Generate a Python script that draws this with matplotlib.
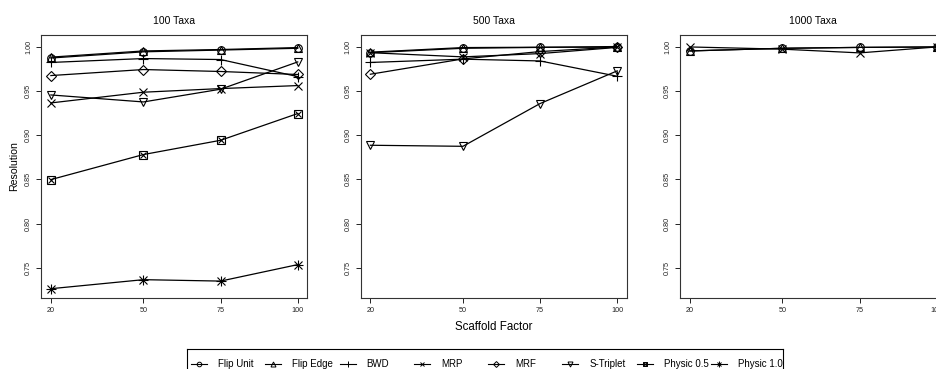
import matplotlib
matplotlib.use("Agg")
import matplotlib.pyplot as plt

plt.rcParams['font.family'] = ['Liberation Sans', 'DejaVu Sans']

# --- Datos: resolución por factor de andamiaje ---
factores = [20, 50, 75, 100]
titulos = ["100 Taxa", "500 Taxa", "1000 Taxa"]
metodos = ["Flip Unit", "Flip Edge", "BWD", "MRP", "MRF", "S-Triplet", "Physic 0.5", "Physic 1.0"]

# 100 taxa
flip_unit_100 = [0.987, 0.994, 0.996, 0.998]
flip_edge_100 = [0.988, 0.995, 0.9966, 0.9988]
bwd_100 = [0.982, 0.9864, 0.9853, 0.966]
mrp_100 = [0.9363, 0.9484, 0.9525, 0.9559]
mrf_100 = [0.9672, 0.974, 0.9718, 0.9684]
striplet_100 = [0.9453, 0.9374, 0.9518, 0.9826]
physic05_100 = [0.8497, 0.878, 0.8941, 0.9243]
physic10_100 = [0.7265, 0.7367, 0.7351, 0.7537]

# 500 taxa
flip_unit_500 = [0.993, 0.998, 0.999, 1.0]
flip_edge_500 = [0.9936, 0.9988, 0.9992, 0.9992]
bwd_500 = [0.982, 0.9857, 0.9837, 0.9664]
mrp_500 = [0.993, 0.9883, 0.992, 0.999]
mrf_500 = [0.9687, 0.986, 0.9943, 0.9995]
striplet_500 = [0.8885, 0.8873, 0.9356, 0.9725]

# 1000 taxa
flip_unit_1000 = [0.995, 0.998, 0.999, 0.9995]
flip_edge_1000 = [0.995, 0.998, 0.999, 0.9995]
mrp_1000 = [0.9995, 0.997, 0.9928, 0.9995]

datos = [
    {"Flip Unit": flip_unit_100, "Flip Edge": flip_edge_100, "BWD": bwd_100, "MRP": mrp_100,
     "MRF": mrf_100, "S-Triplet": striplet_100, "Physic 0.5": physic05_100, "Physic 1.0": physic10_100},
    {"Flip Unit": flip_unit_500, "Flip Edge": flip_edge_500, "BWD": bwd_500, "MRP": mrp_500,
     "MRF": mrf_500, "S-Triplet": striplet_500},
    {"Flip Unit": flip_unit_1000, "Flip Edge": flip_edge_1000, "MRP": mrp_1000},
]

# marcadores estilo R (pch 1..8); algunos se dibujan superponiendo dos
marcadores = {
    "Flip Unit": [("o", 5.5)],
    "Flip Edge": [("^", 6)],
    "BWD": [("+", 7)],
    "MRP": [("x", 5.5)],
    "MRF": [("D", 5)],
    "S-Triplet": [("v", 6)],
    "Physic 0.5": [("s", 5.5), ("x", 4)],
    "Physic 1.0": [("+", 7), ("x", 5.5)],
}


def dibujar_marcador(ax, x, y, metodo):
    for m, s in marcadores[metodo]:
        ax.plot(x, y, linestyle="none", marker=m, markersize=s, markerfacecolor="none",
                markeredgecolor="black", markeredgewidth=0.8)


W, H = 936, 369
fig = plt.figure(figsize=(W / 100, H / 100), dpi=100)

lefts = [41, 360.5, 680]
ancho, top, bottom = 266, 35, 298

for i, (titulo, tabla) in enumerate(zip(titulos, datos)):
    ax = fig.add_axes([lefts[i] / W, (H - bottom) / H, ancho / W, (bottom - top) / H])
    for metodo in metodos:
        if metodo not in tabla:
            continue
        ax.plot(factores, tabla[metodo], color="black", lw=0.9)
        dibujar_marcador(ax, factores, tabla[metodo], metodo)
    ax.set_xlim(16.8, 103.0)
    ax.set_ylim(0.716, 1.013)
    ax.set_xticks(factores)
    ax.set_yticks([0.75, 0.80, 0.85, 0.90, 0.95, 1.00])
    ax.set_yticklabels(["0.75", "0.80", "0.85", "0.90", "0.95", "1.00"], rotation=90, va="center")
    ax.tick_params(direction="out", length=3.5, width=0.7, labelsize=5.2, colors="#222222", pad=3)
    for s in ax.spines.values():
        s.set_linewidth(0.8)
        s.set_color("#333333")
    ax.set_title(titulo, fontsize=7.5, pad=8)
    if i == 0:
        ax.set_ylabel("Resolution", fontsize=7.6, labelpad=4)
    if i == 1:
        ax.set_xlabel("Scaffold Factor", fontsize=8.3, labelpad=5)

# --- Leyenda horizontal con columnas del mismo ancho ---
leg_l, leg_r, leg_t, leg_b = 187, 783, 349, 379
lax = fig.add_axes([leg_l / W, (H - leg_b) / H, (leg_r - leg_l) / W, (leg_b - leg_t) / H])
lax.set_xlim(leg_l, leg_r)
lax.set_ylim(0, 1)
lax.set_xticks([])
lax.set_yticks([])
for s in lax.spines.values():
    s.set_linewidth(0.8)
    s.set_color("black")
paso = 74.3
for j, metodo in enumerate(metodos):
    x0 = leg_l + 4 + paso * j
    lax.plot([x0, x0 + 16], [0.5, 0.5], color="black", lw=0.8)
    for m, s in marcadores[metodo]:
        lax.plot([x0 + 8], [0.5], marker=m, markersize=s * 0.6, markerfacecolor="none",
                 markeredgecolor="black", markeredgewidth=0.7)
    lax.text(x0 + 27, 0.5, metodo, fontsize=7, va="center", ha="left")

fig.savefig("out.png", dpi=100)
